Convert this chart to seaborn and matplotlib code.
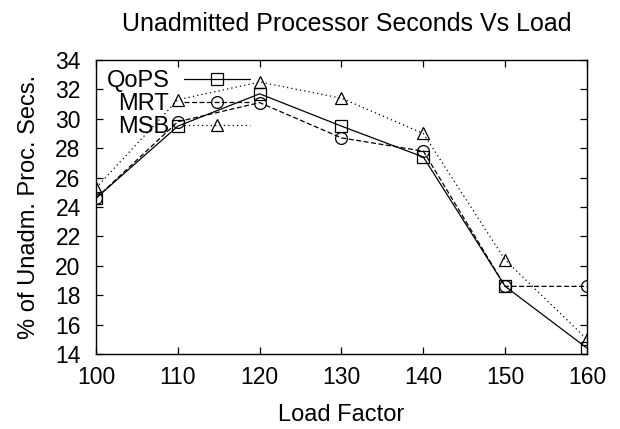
import matplotlib
matplotlib.use("Agg")
import matplotlib.pyplot as plt
import seaborn as sns
import pandas as pd
from matplotlib.lines import Line2D

load = [100, 110, 120, 130, 140, 150, 160]
qops = [24.6, 29.5, 31.7, 29.5, 27.4, 18.6, 14.4]
mrt = [24.6, 29.8, 31.1, 28.7, 27.8, 18.6, 18.6]
msb = [25.3, 31.3, 32.5, 31.4, 29.0, 20.4, 15.0]
series = ["QoPS", "MRT", "MSB"]
x_ticks = [100, 110, 120, 130, 140, 150, 160]
y_ticks = [14, 16, 18, 20, 22, 24, 26, 28, 30, 32, 34]

df = pd.DataFrame({
    "Load": load * 3,
    "Value": qops + mrt + msb,
    "Series": ["QoPS"] * 7 + ["MRT"] * 7 + ["MSB"] * 7,
})

sns.set_theme(style="ticks")
plt.rcParams["font.family"] = ["Liberation Sans", "DejaVu Sans"]
plt.rcParams["text.color"] = "black"
plt.rcParams["axes.labelcolor"] = "black"

W, H = 620, 429
fig = plt.figure(figsize=(6.2, 4.29), dpi=100)
ax = fig.add_axes([96 / W, 1 - 354 / H, (587 - 96) / W, (354 - 60) / H])

dashes = {"QoPS": "", "MRT": (4, 2), "MSB": (1, 2.5)}
markers = {"QoPS": "s", "MRT": "o", "MSB": "^"}
palette = {s: "black" for s in series}
msize = 8.5

sns.lineplot(data=df, x="Load", y="Value", hue="Series", style="Series",
             hue_order=series, style_order=series, palette=palette,
             dashes=dashes, markers=markers, markersize=msize,
             markerfacecolor="none", markeredgecolor="black", markeredgewidth=0.9,
             linewidth=0.9, ax=ax, legend=False)

for ln in ax.get_lines():
    ln.set_markerfacecolor("none")
    ln.set_markeredgecolor("black")

ax.set_xlim(100, 160)
ax.set_ylim(14, 34)
ax.set_xticks(x_ticks)
ax.set_yticks(y_ticks)
ax.tick_params(direction="in", length=5, width=0.9, top=True, right=True,
               labelsize=16.5, colors="black")
ax.tick_params(axis="x", pad=9)
ax.tick_params(axis="y", pad=11)
for sp in ax.spines.values():
    sp.set_visible(True)
    sp.set_color("black")
    sp.set_linewidth(1.0)

ax.set_xlabel("Load Factor", fontsize=17)
ax.set_ylabel("% of Unadm. Proc. Secs.", fontsize=17)
ax.xaxis.set_label_coords(0.5, -(404 - 354) / 294)
ax.yaxis.set_label_coords(-(96 - 40) / 491, 0.5)
fig.text(347 / W, 1 - 24 / H, "Unadmitted Processor Seconds Vs Load",
         ha="center", va="center", fontsize=18)

handles = [
    Line2D([], [], color="black", linewidth=0.9, linestyle="-", marker="s",
           markersize=msize, markerfacecolor="none", markeredgewidth=0.9),
    Line2D([], [], color="black", linewidth=0.9, dashes=(4, 2), marker="o",
           markersize=msize, markerfacecolor="none", markeredgewidth=0.9),
    Line2D([], [], color="black", linewidth=0.9, dashes=(1, 2.5), marker="^",
           markersize=msize, markerfacecolor="none", markeredgewidth=0.9),
]
leg = fig.legend(handles, series, loc="upper right",
                 bbox_to_anchor=(250 / W, 1 - 70 / H),
                 frameon=False, markerfirst=False, fontsize=17, handlelength=2.8,
                 handletextpad=0.62, labelspacing=0.05, borderaxespad=0.0,
                 borderpad=0.0)

fig.savefig("out.png", dpi=100)
